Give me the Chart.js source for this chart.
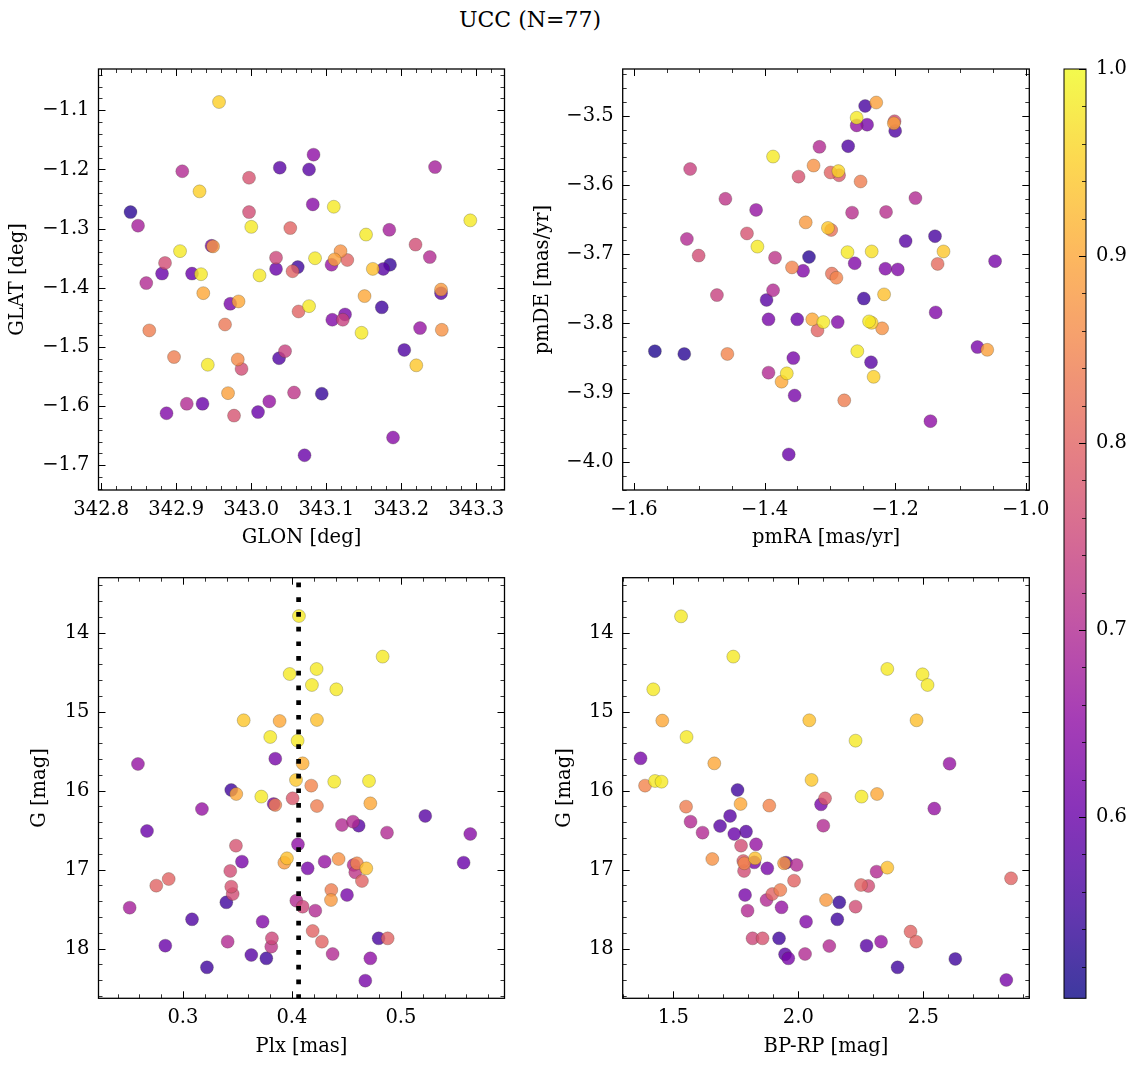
<!DOCTYPE html>
<html><head><meta charset="utf-8">
<script src="https://cdn.jsdelivr.net/npm/chart.js@4.4.1/dist/chart.umd.min.js"></script>
<style>
html,body{margin:0;padding:0;background:#fff;}
#wrap{position:relative;width:1136px;height:1067px;overflow:hidden;}
canvas{position:absolute;left:0;top:0;}
#title{position:absolute;top:6px;left:380px;width:300px;text-align:center;font-family:"DejaVu Serif";font-size:22px;color:#000;line-height:28px;}
</style></head><body>
<div id="wrap">
<div id="title">UCC (N=77)</div>
<canvas id="c1" width="1136" height="1067"></canvas>
<canvas id="c2" width="1136" height="1067"></canvas>
<canvas id="c3" width="1136" height="1067"></canvas>
<canvas id="c4" width="1136" height="1067"></canvas>
<canvas id="cb" width="1136" height="1067"></canvas>
</div>
<script>
// ---------------- DATA ----------------
const glon = [342.957,343.083,343.038,343.077,343.245,342.908,342.997,342.931,342.997,343.082,343.110,342.839,343.292,342.849,343.000,343.052,343.153,343.184,343.219,342.905,342.947,342.949,342.885,343.033,343.085,343.119,343.111,343.128,343.238,343.062,343.033,343.055,343.107,343.162,343.176,343.185,342.881,342.921,342.933,343.011,342.860,343.253,343.253,342.936,342.972,342.983,343.063,343.077,343.151,343.174,343.108,343.125,343.122,342.864,342.965,343.147,343.225,343.254,342.897,342.942,342.982,342.987,343.037,343.045,343.204,343.220,342.969,343.057,343.094,342.887,342.914,342.935,342.977,343.009,343.024,343.189,343.071];
const glat = [-1.086,-1.175,-1.197,-1.200,-1.196,-1.203,-1.214,-1.237,-1.272,-1.259,-1.263,-1.272,-1.286,-1.295,-1.297,-1.299,-1.310,-1.302,-1.327,-1.338,-1.329,-1.330,-1.358,-1.349,-1.350,-1.338,-1.352,-1.353,-1.348,-1.365,-1.368,-1.372,-1.361,-1.368,-1.368,-1.361,-1.376,-1.376,-1.377,-1.379,-1.392,-1.403,-1.409,-1.409,-1.427,-1.423,-1.440,-1.431,-1.414,-1.433,-1.454,-1.445,-1.454,-1.472,-1.462,-1.476,-1.468,-1.471,-1.517,-1.530,-1.521,-1.537,-1.519,-1.507,-1.505,-1.531,-1.578,-1.577,-1.579,-1.612,-1.596,-1.596,-1.616,-1.610,-1.592,-1.653,-1.683];
const probSky = [0.95,0.65,0.58,0.58,0.68,0.70,0.77,0.95,0.76,0.64,0.98,0.53,0.98,0.68,0.98,0.80,0.98,0.68,0.76,0.98,0.62,0.88,0.76,0.75,0.98,0.87,0.89,0.80,0.70,0.55,0.60,0.80,0.66,0.93,0.58,0.54,0.60,0.60,0.98,0.98,0.70,0.88,0.58,0.90,0.62,0.90,0.80,0.98,0.90,0.55,0.63,0.62,0.74,0.84,0.83,0.98,0.66,0.87,0.84,0.98,0.86,0.76,0.57,0.74,0.57,0.94,0.89,0.72,0.54,0.63,0.70,0.60,0.77,0.60,0.66,0.64,0.60];

const pmra = [-1.246,-1.229,-1.259,-1.259,-1.243,-1.201,-1.202,-1.200,-1.316,-1.272,-1.387,-1.514,-1.325,-1.348,-1.299,-1.286,-1.287,-1.253,-1.460,-1.413,-1.169,-1.266,-1.214,-1.337,-1.303,-1.298,-1.519,-1.427,-1.184,-1.139,-1.501,-1.411,-1.384,-1.332,-1.273,-1.236,-1.126,-1.262,-1.358,-1.341,-1.297,-1.290,-1.215,-1.196,-1.135,-1.047,-1.473,-1.387,-1.397,-1.248,-1.217,-1.394,-1.350,-1.327,-1.319,-1.310,-1.288,-1.240,-1.236,-1.220,-1.138,-1.568,-1.523,-1.457,-1.356,-1.258,-1.237,-1.394,-1.366,-1.374,-1.233,-1.074,-1.059,-1.354,-1.278,-1.146,-1.363];
const pmde = [-3.486,-3.481,-3.514,-3.503,-3.513,-3.508,-3.511,-3.522,-3.545,-3.544,-3.559,-3.577,-3.572,-3.588,-3.582,-3.586,-3.580,-3.595,-3.620,-3.636,-3.619,-3.640,-3.639,-3.654,-3.662,-3.665,-3.678,-3.670,-3.681,-3.674,-3.702,-3.689,-3.705,-3.704,-3.697,-3.696,-3.696,-3.713,-3.719,-3.724,-3.728,-3.734,-3.721,-3.722,-3.714,-3.710,-3.759,-3.752,-3.766,-3.764,-3.758,-3.794,-3.794,-3.794,-3.810,-3.798,-3.798,-3.797,-3.799,-3.807,-3.784,-3.840,-3.844,-3.844,-3.850,-3.840,-3.856,-3.871,-3.872,-3.884,-3.877,-3.834,-3.838,-3.904,-3.911,-3.941,-3.989];
const probPm = [0.56,0.89,0.66,0.98,0.62,0.76,0.89,0.57,0.70,0.57,0.98,0.74,0.87,0.77,0.80,0.78,0.96,0.84,0.72,0.66,0.70,0.71,0.71,0.88,0.94,0.82,0.70,0.77,0.58,0.56,0.76,0.98,0.72,0.53,0.98,0.97,0.94,0.63,0.85,0.63,0.82,0.85,0.63,0.63,0.81,0.62,0.74,0.70,0.58,0.55,0.93,0.62,0.60,0.90,0.80,0.98,0.63,0.98,0.95,0.87,0.63,0.52,0.53,0.85,0.62,0.98,0.58,0.70,0.97,0.90,0.95,0.62,0.89,0.62,0.84,0.65,0.60];

const plx = [0.4064,0.4832,0.3979,0.4226,0.4183,0.4407,0.3557,0.3887,0.4229,0.3801,0.4052,0.2587,0.3847,0.4098,0.4037,0.4177,0.4388,0.4707,0.3443,0.3489,0.3719,0.3847,0.3832,0.4006,0.4229,0.4719,0.3174,0.5223,0.2670,0.4459,0.4560,0.4612,0.4872,0.5636,0.3486,0.4055,0.3541,0.3434,0.3954,0.3930,0.4144,0.4300,0.4428,0.4566,0.4596,0.4581,0.4682,0.4642,0.5575,0.2755,0.2869,0.3443,0.3456,0.3398,0.2511,0.4040,0.4098,0.4214,0.4361,0.4358,0.4505,0.3083,0.3731,0.4190,0.4275,0.3816,0.3810,0.3410,0.2838,0.3627,0.3765,0.3220,0.4373,0.4795,0.4878,0.4719,0.4673];
const gPlx = [13.789,14.303,14.523,14.460,14.662,14.717,15.109,15.118,15.105,15.320,15.367,15.662,15.595,15.654,15.865,15.936,15.886,15.877,15.991,16.042,16.075,16.181,16.168,16.097,16.194,16.160,16.232,16.320,16.510,16.434,16.392,16.443,16.531,16.548,16.696,16.679,16.898,17.016,16.856,16.911,16.983,16.898,16.865,16.940,16.919,17.033,16.983,17.143,16.911,17.202,17.118,17.215,17.308,17.413,17.481,17.392,17.468,17.519,17.257,17.384,17.320,17.628,17.658,17.776,17.911,17.869,17.974,17.911,17.962,18.080,18.122,18.236,18.067,17.869,17.869,18.122,18.405];
const probPlx = [0.98,0.98,0.98,0.98,0.98,0.98,0.94,0.90,0.93,0.98,0.98,0.66,0.62,0.91,0.94,0.85,0.98,0.98,0.55,0.90,0.98,0.84,0.62,0.78,0.84,0.90,0.66,0.58,0.60,0.70,0.70,0.58,0.70,0.64,0.77,0.65,0.62,0.76,0.93,0.88,0.62,0.66,0.87,0.70,0.85,0.72,0.93,0.80,0.60,0.80,0.80,0.77,0.76,0.55,0.68,0.70,0.75,0.70,0.84,0.88,0.62,0.57,0.63,0.80,0.80,0.75,0.72,0.70,0.60,0.58,0.55,0.55,0.70,0.56,0.80,0.65,0.62];
const plxMarker = 0.4061;

const bprp = [1.531,1.740,2.356,2.497,2.517,1.420,1.456,2.044,2.473,1.553,2.229,1.369,1.664,2.605,1.427,1.453,2.053,1.387,1.757,2.253,2.315,1.551,1.769,1.884,2.091,2.107,2.544,1.569,1.617,1.687,1.727,1.744,1.791,2.100,1.771,1.831,1.656,1.780,1.784,1.827,1.824,1.876,1.783,1.943,1.951,1.993,1.983,2.313,2.356,2.251,2.280,2.851,1.787,1.797,1.873,1.896,1.928,1.933,2.111,2.164,2.229,2.031,2.156,1.817,1.857,1.923,1.947,1.960,2.027,2.124,2.273,2.331,2.449,2.471,2.397,2.628,2.832];
const gCmd = [13.793,14.303,14.459,14.527,14.662,14.717,15.113,15.109,15.109,15.320,15.367,15.590,15.654,15.658,15.877,15.886,15.864,15.936,15.991,16.075,16.042,16.202,16.168,16.189,16.173,16.097,16.227,16.392,16.531,16.447,16.320,16.548,16.518,16.443,16.696,16.679,16.865,16.890,16.919,16.856,16.907,16.983,17.016,16.919,16.911,16.940,17.139,17.025,16.974,17.194,17.206,17.109,17.320,17.519,17.384,17.308,17.257,17.476,17.384,17.413,17.468,17.658,17.628,17.869,17.869,17.869,18.071,18.122,18.067,17.966,17.962,17.911,17.784,17.911,18.236,18.130,18.396];
const probCmd = [0.98,0.98,0.98,0.98,0.98,0.98,0.90,0.93,0.93,0.98,0.98,0.62,0.90,0.66,0.98,0.98,0.94,0.85,0.55,0.98,0.90,0.84,0.90,0.85,0.62,0.78,0.66,0.70,0.70,0.58,0.58,0.60,0.58,0.70,0.76,0.66,0.87,0.78,0.85,0.93,0.62,0.62,0.76,0.88,0.58,0.70,0.80,0.70,0.93,0.80,0.76,0.80,0.62,0.70,0.70,0.80,0.84,0.66,0.88,0.54,0.76,0.63,0.55,0.75,0.77,0.55,0.58,0.62,0.70,0.70,0.58,0.66,0.80,0.80,0.55,0.55,0.62];

// tick labels
const glonTicks = [342.8,342.9,343.0,343.1,343.2,343.3];
const glatTicks = [-1.1,-1.2,-1.3,-1.4,-1.5,-1.6,-1.7];
const pmraTicks = [-1.6,-1.4,-1.2,-1.0];
const pmdeTicks = [-3.5,-3.6,-3.7,-3.8,-3.9,-4.0];
const plxTicks = [0.3,0.4,0.5];
const gTicks = [14,15,16,17,18];
const bprpTicks = [1.5,2.0,2.5];
const cbTicks = [0.6,0.7,0.8,0.9,1.0];
const VMIN = 0.503, VMAX = 1.0;

// ---------------- styling ----------------
const FONT = '"DejaVu Serif", serif';
const FS = 19.5;
const ALPHA = 0.8;
const W = 1136, H = 1067;
const PLASMA = ['#0d0887','#41049d','#6a00a8','#8f0da4','#b12a90','#cc4778','#e16462','#f2844b','#fca636','#fcce25','#f0f921']
  .map(h => [parseInt(h.slice(1,3),16), parseInt(h.slice(3,5),16), parseInt(h.slice(5,7),16)]);
function plasma(t, a) {
  t = Math.min(1, Math.max(0, t));
  const f = t * 10, i = Math.min(9, Math.floor(f)), u = f - i;
  const c = PLASMA[i].map((v, k) => Math.round(v + (PLASMA[i + 1][k] - v) * u));
  return `rgba(${c[0]},${c[1]},${c[2]},${a})`;
}
const colorOf = p => plasma((p - VMIN) / (VMAX - VMIN), ALPHA);
const fmt1 = v => v.toFixed(1).replace('-', '\u2212');
const fmt0 = v => v.toFixed(0).replace('-', '\u2212');
function range(a, b, step) { const out = []; const n = Math.round((b - a) / step); for (let i = 0; i <= n; i++) out.push(+(a + i * step).toFixed(6)); return out; }

const inTicks = {
  id: 'inTicks',
  afterDatasetsDraw(chart, args, o) {
    const {ctx, chartArea: a, scales} = chart;
    ctx.save();
    ctx.strokeStyle = '#000';
    const seg = (x1, y1, x2, y2, lw) => { ctx.lineWidth = lw; ctx.beginPath(); ctx.moveTo(x1, y1); ctx.lineTo(x2, y2); ctx.stroke(); };
    const doX = (vals, len, lw) => vals.forEach(v => {
      const p = Math.round(scales.x.getPixelForValue(v)) + 0.5;
      if (p < a.left - 0.5 || p > a.right + 0.5) return;
      if (o.bottom) seg(p, a.bottom, p, a.bottom - len, lw);
      if (o.top) seg(p, a.top, p, a.top + len, lw);
    });
    const doY = (vals, len, lw) => vals.forEach(v => {
      const p = Math.round(scales.y.getPixelForValue(v)) + 0.5;
      if (p < a.top - 0.5 || p > a.bottom + 0.5) return;
      if (o.left) seg(a.left, p, a.left + len, p, lw);
      if (o.right) seg(a.right, p, a.right - len, p, lw);
    });
    if (o.xMajor) { doX(o.xMajor, 7, 1); doX(o.xMinor, 4, 0.8); }
    if (o.yMajor) { doY(o.yMajor, 7, 1); doY(o.yMinor, 4, 0.8); }
    ctx.lineWidth = o.frame || 1.3;
    ctx.strokeRect(a.left, a.top, a.right - a.left, a.bottom - a.top);
    ctx.restore();
  }
};

function axis(cfg) {
  return {
    type: 'linear', min: cfg.min, max: cfg.max, reverse: !!cfg.reverse, position: cfg.position,
    afterBuildTicks: s => { s.ticks = cfg.ticks.map(v => ({value: v})); },
    afterFit: s => { if (cfg.isX) s.height = cfg.size; else s.width = cfg.size; },
    grid: {display: false, drawTicks: false}, border: {display: false},
    ticks: {autoSkip: false, maxRotation: 0, minRotation: 0, padding: cfg.pad, color: '#000',
      font: {family: FONT, size: FS}, callback: v => cfg.fmt(v)},
    title: {display: !!cfg.title, text: cfg.title, color: '#000', font: {family: FONT, size: FS}, padding: cfg.titlePad || 0}
  };
}

function points(xs, ys, ps) {
  const idx = xs.map((_, i) => i).sort((i, j) => ps[i] - ps[j]);
  return {
    type: 'scatter', order: 1,
    data: idx.map(i => ({x: xs[i], y: ys[i]})),
    backgroundColor: idx.map(i => colorOf(ps[i])),
    borderColor: 'rgba(60,60,40,0.45)', borderWidth: 0.6,
    pointRadius: 6.5, pointHoverRadius: 6.5
  };
}

const XH = 70;
function panel(id, area, yw, xcfg, ycfg, datasets, tk) {
  new Chart(document.getElementById(id), {
    type: 'scatter',
    data: {datasets},
    options: {
      responsive: false, animation: false, events: [],
      layout: {padding: {left: area[0] - yw, top: area[1], right: W - area[2], bottom: H - area[3] - XH}},
      plugins: {legend: {display: false}, tooltip: {enabled: false}, inTicks: tk},
      scales: {
        x: axis(Object.assign({isX: true, size: XH, pad: 8, titlePad: {top: 0, bottom: 10}}, xcfg)),
        y: axis(Object.assign({isX: false, size: yw, pad: 9, titlePad: {top: 0, bottom: 0}}, ycfg))
      }
    },
    plugins: [inTicks]
  });
}
const sides = {top: true, bottom: true, left: true, right: true};

const A1 = [98.5, 69, 504.5, 490], A2 = [622.7, 69, 1029.3, 490];
const A3 = [98.5, 577.7, 504.5, 998.3], A4 = [622.7, 577.7, 1029.3, 998.3];

panel('c1', A1, 92,
  {min: 342.7963, max: 343.3376, ticks: glonTicks, fmt: fmt1, title: 'GLON [deg]'},
  {min: -1.7417, max: -1.0302, ticks: glatTicks, fmt: fmt1, title: 'GLAT [deg]'},
  [points(glon, glat, probSky)],
  Object.assign({xMajor: glonTicks, xMinor: range(342.8, 343.32, 0.02), yMajor: glatTicks, yMinor: range(-1.74, -1.04, 0.02)}, sides));

panel('c2', A2, 91.5,
  {min: -1.6173, max: -0.9946, ticks: pmraTicks, fmt: fmt1, title: 'pmRA [mas/yr]'},
  {min: -4.0404, max: -3.4326, ticks: pmdeTicks, fmt: fmt1, title: 'pmDE [mas/yr]'},
  [points(pmra, pmde, probPm)],
  Object.assign({xMajor: pmraTicks, xMinor: range(-1.6, -1.0, 0.05), yMajor: pmdeTicks, yMinor: range(-4.04, -3.44, 0.02)}, sides));

panel('c3', A3, 70,
  {min: 0.2225, max: 0.5950, ticks: plxTicks, fmt: fmt1, title: 'Plx [mas]'},
  {min: 13.304, max: 18.628, reverse: true, ticks: gTicks, fmt: fmt0, title: 'G [mag]'},
  [{type: 'line', order: 0, data: [{x: plxMarker, y: 13.304}, {x: plxMarker, y: 18.628}],
    borderColor: '#000', borderWidth: 4.7, borderDash: [4.7, 10], borderDashOffset: 9.8, borderCapStyle: 'butt',
    pointRadius: 0, fill: false, tension: 0},
   points(plx, gPlx, probPlx)],
  Object.assign({xMajor: plxTicks, xMinor: range(0.24, 0.58, 0.02), yMajor: gTicks, yMinor: range(13.4, 18.6, 0.2)}, sides));

panel('c4', A4, 69.5,
  {min: 1.2976, max: 2.924, ticks: bprpTicks, fmt: fmt1, title: 'BP-RP [mag]'},
  {min: 13.304, max: 18.628, reverse: true, ticks: gTicks, fmt: fmt0, title: 'G [mag]'},
  [points(bprp, gCmd, probCmd)],
  Object.assign({xMajor: bprpTicks, xMinor: range(1.3, 2.9, 0.1), yMajor: gTicks, yMinor: range(13.4, 18.6, 0.2)}, sides));

// colorbar
const cbGrad = {
  id: 'cbGrad',
  beforeDatasetsDraw(chart) {
    const {ctx, chartArea: a, scales: {y}} = chart;
    const g = ctx.createLinearGradient(0, y.getPixelForValue(VMIN), 0, y.getPixelForValue(VMAX));
    for (let k = 0; k <= 60; k++) g.addColorStop(k / 60, plasma(k / 60, ALPHA));
    ctx.save(); ctx.fillStyle = g; ctx.fillRect(a.left, a.top, a.right - a.left, a.bottom - a.top); ctx.restore();
  }
};
new Chart(document.getElementById('cb'), {
  type: 'scatter',
  data: {datasets: []},
  options: {
    responsive: false, animation: false, events: [],
    layout: {padding: {left: 1064, top: 69, right: 2, bottom: H - 998.3}},
    plugins: {legend: {display: false}, tooltip: {enabled: false},
      inTicks: {yMajor: cbTicks, yMinor: range(0.52, 0.98, 0.02), right: true, frame: 1}},
    scales: {
      x: {type: 'linear', display: false, min: 0, max: 1},
      y: axis({isX: false, size: 48, pad: 10, min: VMIN, max: VMAX, ticks: cbTicks, fmt: fmt1, title: '', position: 'right'})
    }
  },
  plugins: [cbGrad, inTicks]
});
</script>
</body></html>
